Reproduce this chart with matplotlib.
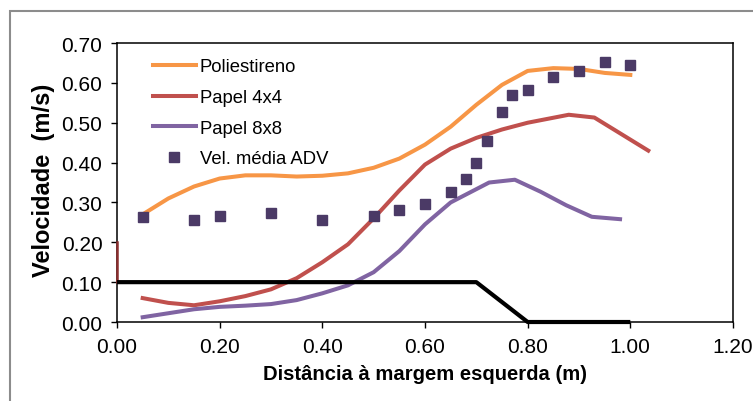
import matplotlib
matplotlib.use("Agg")
import matplotlib.pyplot as plt
from matplotlib.patches import Rectangle
from matplotlib.ticker import FormatStrFormatter

plt.rcParams['font.family'] = ['Liberation Sans', 'DejaVu Sans']

# perfis de velocidade (m/s) ao longo da secção
x_poli = [0.05, 0.10, 0.15, 0.20, 0.25, 0.30, 0.35, 0.40, 0.45, 0.50,
          0.55, 0.60, 0.65, 0.70, 0.75, 0.80, 0.85, 0.90, 0.95, 1.00]
v_poli = [0.27, 0.31, 0.34, 0.36, 0.368, 0.368, 0.365, 0.367, 0.373, 0.387,
          0.41, 0.445, 0.49, 0.545, 0.595, 0.63, 0.637, 0.635, 0.625, 0.62]

x_p44 = [0.05, 0.10, 0.15, 0.20, 0.25, 0.30, 0.35, 0.40, 0.45, 0.50,
         0.55, 0.60, 0.65, 0.70, 0.75, 0.80, 0.88, 0.93, 1.035]
v_p44 = [0.06, 0.048, 0.042, 0.052, 0.065, 0.082, 0.11, 0.15, 0.195, 0.26,
         0.33, 0.395, 0.435, 0.462, 0.483, 0.50, 0.52, 0.513, 0.43]

x_p88 = [0.05, 0.10, 0.15, 0.20, 0.25, 0.30, 0.35, 0.40, 0.45, 0.50,
         0.55, 0.60, 0.65, 0.725, 0.775, 0.825, 0.875, 0.925, 0.98]
v_p88 = [0.012, 0.022, 0.032, 0.038, 0.041, 0.045, 0.055, 0.072, 0.092, 0.125,
         0.178, 0.245, 0.30, 0.350, 0.357, 0.327, 0.293, 0.264, 0.258]

x_adv = [0.05, 0.15, 0.20, 0.30, 0.40, 0.50, 0.55, 0.60, 0.65, 0.68,
         0.70, 0.72, 0.75, 0.77, 0.80, 0.85, 0.90, 0.95, 1.00]
v_adv = [0.264, 0.257, 0.267, 0.274, 0.257, 0.267, 0.282, 0.295, 0.325, 0.36,
         0.399, 0.453, 0.528, 0.57, 0.583, 0.614, 0.63, 0.652, 0.646]

# fundo do canal (esquematico)
x_fundo = [0.0, 0.70, 0.80, 1.00]
y_fundo = [0.10, 0.10, 0.0, 0.0]
x_margem = [0.0, 0.0]
y_margem = [0.10, 0.20]

fig = plt.figure(figsize=(7.53, 4.02), dpi=100)
ax = fig.add_axes([0.1554, 0.1965, 0.818, 0.694])

# moldura do grafico
fig.patches.append(Rectangle((10 / 753, -0.1), 1.2, 1 - 12 / 402 + 0.1,
                             transform=fig.transFigure, fill=False,
                             edgecolor='#8c8c8c', lw=1.5))

ax.plot(x_poli, v_poli, color='#F79646', lw=2.9, label='Poliestireno', zorder=3)
ax.plot(x_p44, v_p44, color='#C0504D', lw=2.9, label='Papel 4x4', zorder=3)
ax.plot(x_p88, v_p88, color='#8064A2', lw=2.9, label='Papel 8x8', zorder=3)
ax.plot(x_adv, v_adv, 's', color='#4B3A66', ms=7.5, mec='#4B3A66',
        label='Vel. média ADV', zorder=4)
ax.plot(x_margem, y_margem, color='#8B2E2E', lw=1.8, clip_on=False, zorder=5)
ax.plot(x_fundo, y_fundo, color='black', lw=3, clip_on=False, zorder=5,
        solid_capstyle='butt')

ax.set_xlim(0, 1.2)
ax.set_ylim(0, 0.7)
ax.set_xticks([0, 0.2, 0.4, 0.6, 0.8, 1.0, 1.2])
ax.set_yticks([0, 0.1, 0.2, 0.3, 0.4, 0.5, 0.6, 0.7])
ax.xaxis.set_major_formatter(FormatStrFormatter('%.2f'))
ax.yaxis.set_major_formatter(FormatStrFormatter('%.2f'))
ax.tick_params(direction='out', length=4.5, width=1, labelsize=15, pad=6)

for s in ax.spines.values():
    s.set_linewidth(1.1)

ax.set_xlabel('Distância à margem esquerda (m)', fontsize=14.6,
              fontweight='bold', labelpad=6)
# titulo do eixo y colocado a mao, centrado
fig.text(44 / 753, 1 - 180 / 402, 'Velocidade  (m/s)', rotation=90,
         ha='center', va='center', fontsize=17, fontweight='bold')

ax.legend(loc='upper left', bbox_to_anchor=(0.058, 0.945), frameon=False,
          fontsize=13.3, handlelength=2.35, handletextpad=0.2, labelspacing=0.74,
          borderpad=0, borderaxespad=0)

fig.savefig('out.png', dpi=100)
